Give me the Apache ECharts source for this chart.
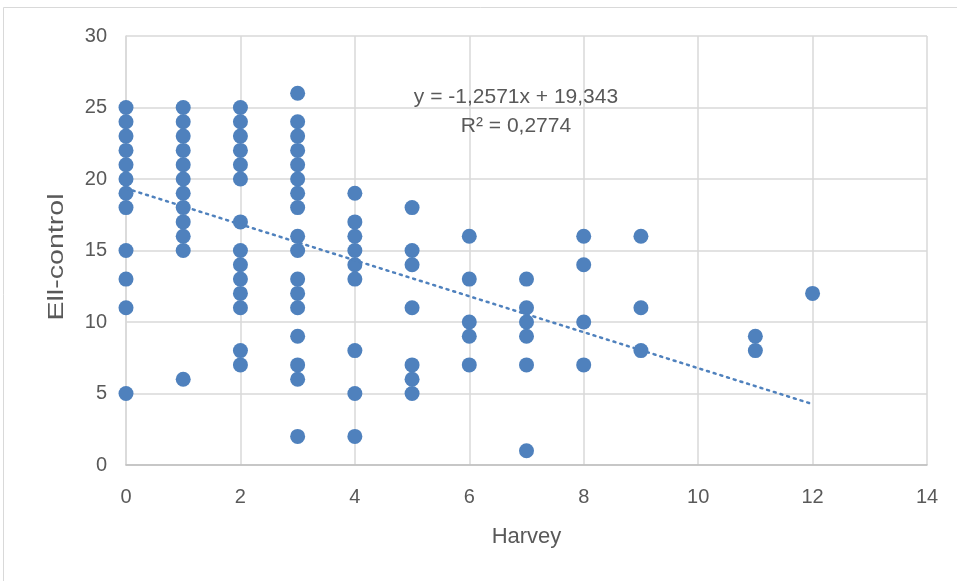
<!DOCTYPE html>
<html>
<head>
<meta charset="utf-8">
<script src="https://cdn.jsdelivr.net/npm/echarts@6/dist/echarts.min.js"></script>
<style>
  html, body { margin: 0; padding: 0; background: #fff; }
  #chart { width: 957px; height: 581px; }
</style>
</head>
<body>
<div id="chart"></div>
<script>
// Harvey score -> list of Ell-control values
var harveyValues = [0, 1, 2, 3, 4, 5, 6, 7, 8, 9, 11, 12];
var ellByHarvey = [
    [25, 24, 23, 22, 21, 20, 19, 18, 15, 13, 11, 5],
    [25, 24, 23, 22, 21, 20, 19, 18, 17, 16, 15, 6],
    [25, 24, 23, 22, 21, 20, 17, 15, 14, 13, 12, 11, 8, 7],
    [26, 24, 23, 22, 21, 20, 19, 18, 16, 15, 13, 12, 11, 9, 7, 6, 2],
    [19, 17, 16, 15, 14, 13, 8, 5, 2],
    [18, 15, 14, 11, 7, 6, 5],
    [16, 13, 10, 9, 7],
    [13, 11, 10, 9, 7, 1],
    [16, 14, 10, 7],
    [16, 11, 8],
    [9, 8],
    [12]
];
var xTicks = [0, 2, 4, 6, 8, 10, 12, 14];
var yTicks = [0, 5, 10, 15, 20, 25, 30];
var trendSlope = -1.2571;
var trendIntercept = 19.343;
var trendRange = [0, 12];
var trendText = ["y = -1,2571x + 19,343", "R² = 0,2774"];

var points = [];
harveyValues.forEach(function (h, i) {
    ellByHarvey[i].forEach(function (v) { points.push([h, v]); });
});
var trend = trendRange.map(function (x) { return [x, trendIntercept + trendSlope * x]; });

var fontFam = "Liberation Sans";
var grey = "#595959";
var blue = "#4f81bd";

var chart = echarts.init(document.getElementById("chart"));
chart.setOption({
    animation: false,
    backgroundColor: "#fff",
    grid: { left: 126, right: 30, top: 36, bottom: 116 },
    xAxis: {
        type: "value",
        min: xTicks[0], max: xTicks[xTicks.length - 1], interval: 2,
        name: "Harvey", nameLocation: "middle", nameGap: 61,
        nameTextStyle: { color: grey, fontSize: 22, fontFamily: fontFam },
        axisLine: { lineStyle: { color: "#bfbfbf", width: 1.5 } },
        axisTick: { show: false },
        splitLine: { lineStyle: { color: "#d9d9d9", width: 1.5 } },
        axisLabel: { color: grey, fontSize: 20, fontFamily: fontFam, margin: 22 }
    },
    yAxis: {
        type: "value",
        min: yTicks[0], max: yTicks[yTicks.length - 1], interval: 5,
        axisLine: { show: true, lineStyle: { color: "#d9d9d9", width: 1.5 } },
        axisTick: { show: false },
        splitLine: { lineStyle: { color: "#d9d9d9", width: 1.5 } },
        axisLabel: { color: grey, fontSize: 20, fontFamily: fontFam, margin: 19 }
    },
    graphic: [
        { type: "rect", silent: true, z: -1,
          shape: { x: 3.5, y: 7.5, width: 1000, height: 700 },
          style: { fill: null, stroke: "#d9d9d9", lineWidth: 1 } },
        // y axis title, stretched along its length like the source
        { type: "text", x: 57, y: 257, rotation: Math.PI / 2, scaleX: 1.3, z: 100,
          style: { text: "Ell-control", fill: grey, fontSize: 22, fontFamily: fontFam,
                   align: "center", verticalAlign: "middle" } },
        { type: "text", x: 516, y: 97, z: 100,
          style: { text: trendText[0], fill: grey, fontSize: 21, fontFamily: fontFam,
                   align: "center", verticalAlign: "middle" } },
        { type: "text", x: 516, y: 126, z: 100,
          style: { text: trendText[1], fill: grey, fontSize: 21, fontFamily: fontFam,
                   align: "center", verticalAlign: "middle" } }
    ],
    series: [
        {
            name: "Ell-control",
            type: "scatter",
            data: points,
            symbolSize: 15,
            itemStyle: { color: blue, opacity: 1 },
            z: 3
        },
        {
            name: "trend",
            type: "line",
            data: trend,
            showSymbol: false,
            symbol: "none",
            lineStyle: { color: blue, width: 2.5, type: [2, 5], cap: "round" },
            z: 4
        }
    ]
});
</script>
</body>
</html>
